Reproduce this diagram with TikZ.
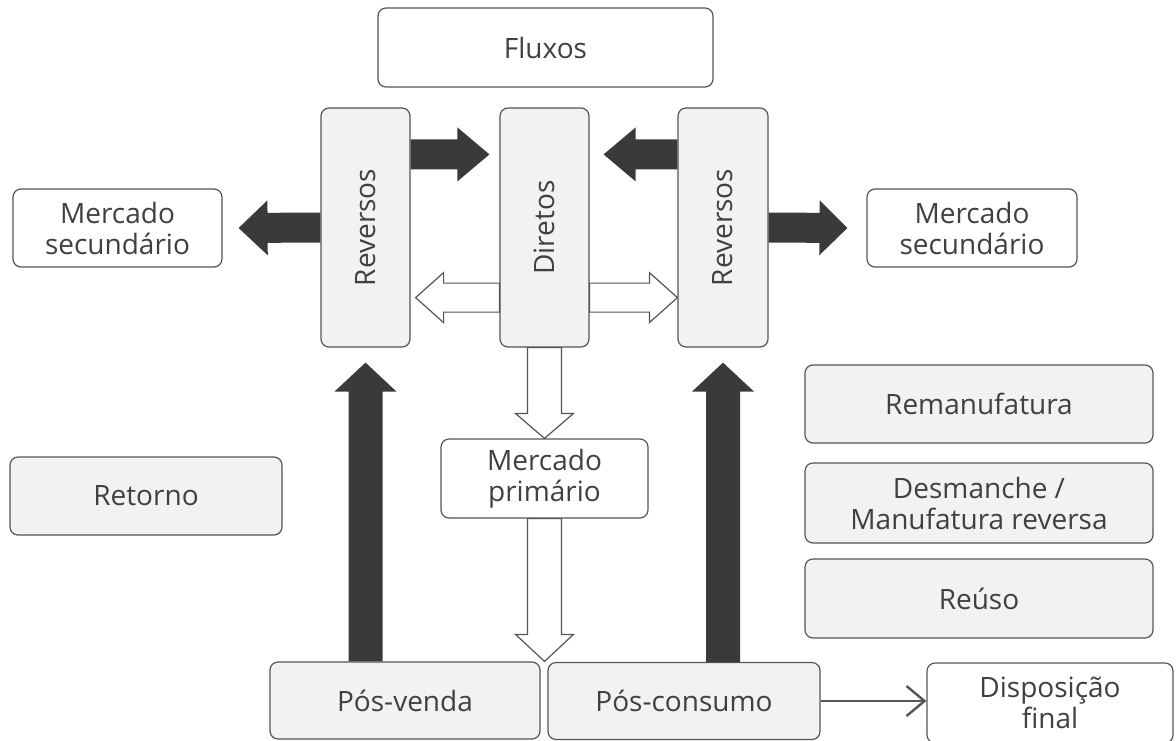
\documentclass[tikz,border=0pt]{standalone}
\usepackage{fontspec}
\setmainfont{Open Sans}
\usepackage{graphicx}
\usetikzlibrary{calc, arrows.meta}

\definecolor{boxfill}{RGB}{242,242,245}
\definecolor{boxline}{RGB}{85,85,85}
\definecolor{arrowdark}{RGB}{58,58,58}
\definecolor{txt}{RGB}{64,64,64}

\begin{document}
\begin{tikzpicture}[x=0.5pt, y=-0.5pt,
    every node/.style={font=\fontsize{14}{15.5}\selectfont, text=txt, align=center},
    box/.style={draw=boxline, line width=0.6pt, rounded corners=4pt, inner sep=0pt},
    grey/.style={box, fill=boxfill},
    plain/.style={box, fill=white},
    blockarrow/.style n args={3}{
      to path={let \p1=(\tikztostart), \p2=(\tikztotarget),
        \n1={atan2(\y2-\y1,\x2-\x1)} in
        ($(\p1)+({\n1+90}:#1)$)
        -- ($(\p2)+({\n1+180}:#3)+({\n1+90}:#1)$)
        -- ($(\p2)+({\n1+180}:#3)+({\n1+90}:#2)$)
        -- (\p2)
        -- ($(\p2)+({\n1+180}:#3)+({\n1-90}:#2)$)
        -- ($(\p2)+({\n1+180}:#3)+({\n1-90}:#1)$)
        -- ($(\p1)+({\n1-90}:#1)$) -- cycle}},
    darkarrow/.style n args={3}{blockarrow={#1}{#2}{#3}, fill=arrowdark},
    hollowarrow/.style n args={3}{blockarrow={#1}{#2}{#3}, fill=white, draw=boxline, line width=0.6pt},
    thinarrow/.style={draw=boxline, line width=1.2pt, -{Straight Barb[length=9pt, width=15pt]}}]
  \useasboundingbox (0,0) rectangle (1176,740);

  % nodes
  \node[plain, minimum width=167.5pt, minimum height=39.5pt] (flux) at (545.5,47.5) {Fluxos};
  \node[grey, minimum width=44.5pt, minimum height=119.5pt] (revL) at (365.5,227.5) {\rotatebox{90}{Reversos}};
  \node[grey, minimum width=44.5pt, minimum height=119.5pt] (dir) at (544.5,227.5) {\rotatebox{90}{Diretos}};
  \node[grey, minimum width=45pt, minimum height=119.5pt] (revR) at (723,227.5) {\rotatebox{90}{Reversos}};
  \node[plain, minimum width=104.5pt, minimum height=39pt] (msL) at (117.5,228) {Mercado\\secundário};
  \node[plain, minimum width=105pt, minimum height=39pt] (msR) at (972,228) {Mercado\\secundário};
  \node[grey, minimum width=136pt, minimum height=39pt] (ret) at (146,496) {Retorno};
  \node[plain, minimum width=103.5pt, minimum height=39.5pt] (mp) at (544.5,478.5) {Mercado\\primário};
  \node[grey, minimum width=174pt, minimum height=39pt] (rem) at (979,404) {Remanufatura};
  \node[grey, minimum width=174pt, minimum height=40pt] (desm) at (979,503) {Desmanche /\\Manufatura reversa};
  \node[grey, minimum width=174pt, minimum height=39.5pt] (reu) at (979,598.5) {Reúso};
  \node[grey, minimum width=135pt, minimum height=38.5pt] (posv) at (405,700.5) {Pós-venda};
  \node[grey, minimum width=136pt, minimum height=38.5pt] (posc) at (684,701) {Pós-consumo};
  \node[plain, minimum width=123pt, minimum height=40pt] (disp) at (1050,703) {Disposição\\final};

  % fluxos reversos
  \path[darkarrow={7.5pt}{13.5pt}{16pt}] ([yshift=-23.5pt]revL.north east) to ([yshift=-23.5pt,xshift=-5pt]dir.north west);
  \path[darkarrow={7.5pt}{13.5pt}{16pt}] ([yshift=-23.5pt]revR.north west) to ([yshift=-23.5pt,xshift=7pt]dir.north east);
  \path[darkarrow={7.5pt}{13.75pt}{14.5pt}] (revL.west) to ([xshift=8pt]msL.east);
  \path[darkarrow={7.5pt}{13.75pt}{14pt}] (revR.east) to ([xshift=-9.5pt]msR.west);
  \path[darkarrow={8.5pt}{15.5pt}{14.5pt}] (revL.south |- posv.north) to ([yshift=-7.5pt]revL.south);
  \path[darkarrow={8.5pt}{15.5pt}{14.5pt}] (revR.south |- posc.north) to ([yshift=-7.5pt]revR.south);

  % fluxos diretos
  \path[hollowarrow={7.25pt}{12.5pt}{14pt}] ([yshift=25pt]dir.south west) to ([yshift=25pt,xshift=2.5pt]revL.south east);
  \path[hollowarrow={7.25pt}{12.5pt}{14pt}] ([yshift=25pt]dir.south east) to ([yshift=25pt]revR.south west);
  \path[hollowarrow={8.5pt}{14.5pt}{12.5pt}] (dir.south) to (dir.south |- mp.north);
  \path[hollowarrow={8.5pt}{14.5pt}{13.5pt}] (dir.south |- mp.south) to (dir.south |- posv.north);

  \draw[thinarrow] (posc.east) -- (posc.east -| disp.west);
\end{tikzpicture}
\end{document}
